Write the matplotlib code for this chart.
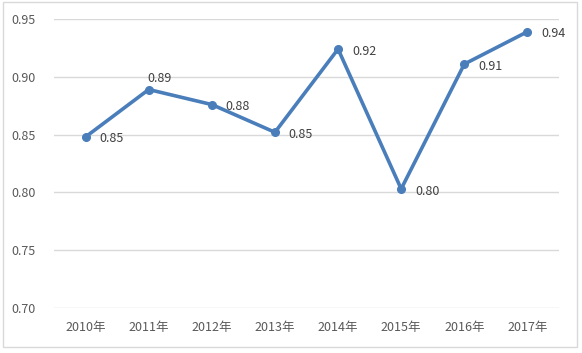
import matplotlib
matplotlib.use("Agg")
import matplotlib.pyplot as plt
from matplotlib.patches import Rectangle

plt.rcParams['font.family'] = ['Noto Sans CJK SC', 'DejaVu Sans']

years = ["2010年", "2011年", "2012年", "2013年", "2014年", "2015年", "2016年", "2017年"]
values = [0.848, 0.889, 0.876, 0.852, 0.924, 0.803, 0.911, 0.939]
labels = ["0.85", "0.89", "0.88", "0.85", "0.92", "0.80", "0.91", "0.94"]
yticks = [0.70, 0.75, 0.80, 0.85, 0.90, 0.95]

W, H = 582, 353
fig = plt.figure(figsize=(W / 100, H / 100), dpi=100)
ax = fig.add_axes([54 / W, 1 - 308 / H, (559 - 54) / W, (308 - 19) / H])

x = list(range(len(years)))
color = "#4A7EBB"
ax.plot(x, values, color=color, linewidth=2.6, marker="o", markersize=5.5,
        solid_capstyle="round", solid_joinstyle="round", zorder=3)

for i, (v, t) in enumerate(zip(values, labels)):
    if i == 1:
        ax.annotate(t, (i, v), xytext=(-1, 3), textcoords="offset points",
                    ha="left", va="bottom", fontsize=9, color="#404040")
    else:
        ax.annotate(t, (i, v), xytext=(10, -1.5), textcoords="offset points",
                    ha="left", va="center", fontsize=9, color="#404040")

ax.set_xlim(-0.5, len(years) - 0.5)
ax.set_ylim(0.70, 0.95)
ax.set_yticks(yticks)
ax.set_yticklabels([f"{t:.2f}" for t in yticks])
ax.set_xticks(x)
ax.set_xticklabels(years)
ax.grid(axis="y", color="#D9D9D9", linewidth=1.0)
ax.set_axisbelow(True)
for s in ax.spines.values():
    s.set_visible(False)
ax.tick_params(axis="both", length=0, labelsize=9, labelcolor="#595959")
ax.tick_params(axis="y", pad=13)
ax.tick_params(axis="x", pad=9)

fig.patches.append(Rectangle((3 / W, 1 - 347 / H), (577 - 3) / W, (347 - 2) / H,
                             transform=fig.transFigure, fill=False,
                             edgecolor="#D9D9D9", linewidth=1.0))

fig.savefig("out.png", dpi=100)
